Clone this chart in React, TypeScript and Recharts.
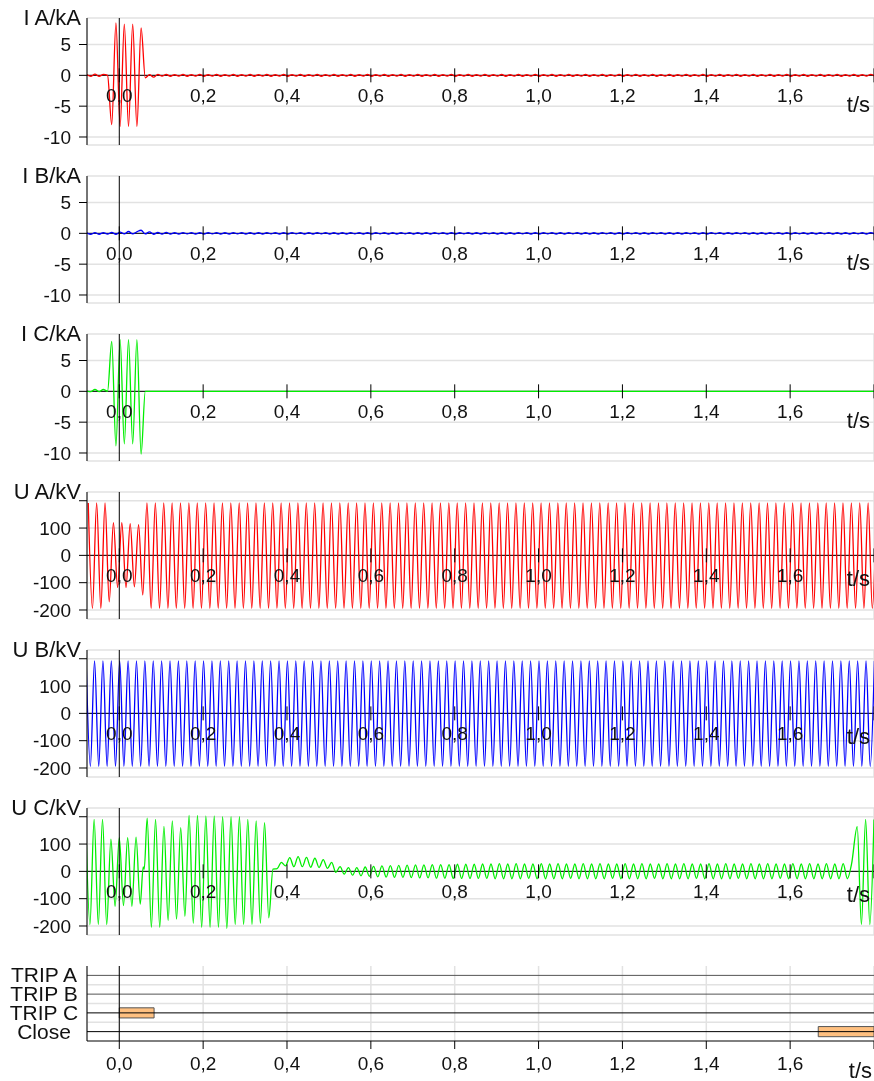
import { LineChart, Line, XAxis, YAxis, CartesianGrid, ReferenceLine, ReferenceDot, ReferenceArea } from 'recharts';

const T_MIN = -0.077;
const T_MAX = 1.8;
const TIME_TICKS = [0, 0.2, 0.4, 0.6, 0.8, 1.0, 1.2, 1.4, 1.6, 1.8];
const CURRENT_TICKS = [-10, -5, 0, 5];
const VOLTAGE_TICKS = [-200, -100, 0, 100, 200];

// half-cycle extrema (peak / trough), one every 10 ms
const IA_START = -0.078;
const IA_PEAKS = [
    0.15, -0.15, 0.2, -0.15, 0.15, 0, -8, 8.5, -8.3, 8.3,
    -8.3, 8.3, -8.3, 7.7, -0.4, 0.1, -0.3, 0.15, -0.12, 0.15,
    -0.15, 0.12, -0.12, 0.15, -0.15, 0.12, -0.12, 0.15, -0.15, 0.12,
    -0.12, 0.15, -0.15, 0.12, -0.12, 0.15, -0.15, 0.12, -0.12, 0.15,
    -0.15, 0.12, -0.12, 0.15, -0.15, 0.12, -0.12, 0.15, -0.15, 0.12,
    -0.12, 0.15, -0.15, 0.12, -0.12, 0.15, -0.15, 0.12, -0.12, 0.15,
    -0.15, 0.12, -0.12, 0.15, -0.15, 0.12, -0.12, 0.15, -0.15, 0.12,
    -0.12, 0.15, -0.15, 0.12, -0.12, 0.15, -0.15, 0.12, -0.12, 0.15,
    -0.15, 0.12, -0.12, 0.15, -0.15, 0.12, -0.12, 0.15, -0.15, 0.12,
    -0.12, 0.15, -0.15, 0.12, -0.12, 0.15, -0.15, 0.12, -0.12, 0.15,
    -0.15, 0.12, -0.12, 0.15, -0.15, 0.12, -0.12, 0.15, -0.15, 0.12,
    -0.12, 0.15, -0.15, 0.12, -0.12, 0.15, -0.15, 0.12, -0.12, 0.15,
    -0.15, 0.12, -0.12, 0.15, -0.15, 0.12, -0.12, 0.15, -0.15, 0.12,
    -0.12, 0.15, -0.15, 0.12, -0.12, 0.15, -0.15, 0.12, -0.12, 0.15,
    -0.15, 0.12, -0.12, 0.15, -0.15, 0.12, -0.12, 0.15, -0.15, 0.12,
    -0.12, 0.15, -0.15, 0.12, -0.12, 0.15, -0.15, 0.12, -0.12, 0.15,
    -0.15, 0.12, -0.12, 0.15, -0.15, 0.12, -0.12, 0.15, -0.15, 0.12,
    -0.12, 0.15, -0.15, 0.12, -0.12, 0.15, -0.15, 0.12, -0.12, 0.15,
    -0.15, 0.12, -0.12, 0.15, -0.15, 0.12, -0.12, 0.15, -0.15,
];

const IB_START = -0.078;
const IB_PEAKS = [
    0.1, -0.15, 0.1, -0.15, 0.12, -0.12, 0.15, -0.15, 0.2, -0.1,
    0.3, -0.1, 0.25, 0.5, -0.1, 0.25, -0.15, 0.15, -0.12, 0.15,
    -0.12, 0.1, -0.12, 0.12, -0.1, 0.12, -0.12, 0.1, -0.12, 0.12,
    -0.1, 0.12, -0.12, 0.1, -0.12, 0.12, -0.1, 0.12, -0.12, 0.1,
    -0.12, 0.1, -0.12, 0.12, -0.1, 0.12, -0.12, 0.1, -0.12, 0.12,
    -0.1, 0.12, -0.12, 0.1, -0.12, 0.12, -0.1, 0.12, -0.12, 0.1,
    -0.12, 0.1, -0.12, 0.12, -0.1, 0.12, -0.12, 0.1, -0.12, 0.12,
    -0.1, 0.12, -0.12, 0.1, -0.12, 0.12, -0.1, 0.12, -0.12, 0.1,
    -0.12, 0.1, -0.12, 0.12, -0.1, 0.12, -0.12, 0.1, -0.12, 0.12,
    -0.1, 0.12, -0.12, 0.1, -0.12, 0.12, -0.1, 0.12, -0.12, 0.1,
    -0.12, 0.1, -0.12, 0.12, -0.1, 0.12, -0.12, 0.1, -0.12, 0.12,
    -0.1, 0.12, -0.12, 0.1, -0.12, 0.12, -0.1, 0.12, -0.12, 0.1,
    -0.12, 0.1, -0.12, 0.12, -0.1, 0.12, -0.12, 0.1, -0.12, 0.12,
    -0.1, 0.12, -0.12, 0.1, -0.12, 0.12, -0.1, 0.12, -0.12, 0.1,
    -0.12, 0.1, -0.12, 0.12, -0.1, 0.12, -0.12, 0.1, -0.12, 0.12,
    -0.1, 0.12, -0.12, 0.1, -0.12, 0.12, -0.1, 0.12, -0.12, 0.1,
    -0.12, 0.1, -0.12, 0.12, -0.1, 0.12, -0.12, 0.1, -0.12, 0.12,
    -0.1, 0.12, -0.12, 0.1, -0.12, 0.12, -0.1, 0.12, -0.12, 0.1,
    -0.12, 0.1, -0.12, 0.12, -0.1, 0.12, -0.12, 0.1, -0.12,
];

const IC_START = -0.078;
const IC_PEAKS = [
    0.05, -0.05, 0.3, -0.05, 0.3, 0, 8.1, -8.85, 8.4, -8.5,
    8.4, -8.5, 8.4, -10.2, 0,
];
// pole C open: flat zero to the end of the record
const IC_OPEN_START = 0.2;
const IC_OPEN = [0, 0, 0, 0, 0];

const UA_START = -0.074;
const UA_PEAKS = [
    192, -194, 192, -194, 192, -170, 120, -118, 120, -118,
    116, -115, 112, -145, 192, -194, 192, -194, 192, -194,
    192, -194, 192, -194, 192, -194, 192, -194, 192, -194,
    192, -194, 192, -194, 192, -194, 192, -194, 192, -194,
    192, -194, 192, -194, 192, -194, 192, -194, 192, -194,
    192, -194, 192, -194, 192, -194, 192, -194, 192, -194,
    192, -194, 192, -194, 192, -194, 192, -194, 192, -194,
    192, -194, 192, -194, 192, -194, 192, -194, 192, -194,
    192, -194, 192, -194, 192, -194, 192, -194, 192, -194,
    192, -194, 192, -194, 192, -194, 192, -194, 192, -194,
    192, -194, 192, -194, 192, -194, 192, -194, 192, -194,
    192, -194, 192, -194, 192, -194, 192, -194, 192, -194,
    192, -194, 192, -194, 192, -194, 192, -194, 192, -194,
    192, -194, 192, -194, 192, -194, 192, -194, 192, -194,
    192, -194, 192, -194, 192, -194, 192, -194, 192, -194,
    192, -194, 192, -194, 192, -194, 192, -194, 192, -194,
    192, -194, 192, -194, 192, -194, 192, -194, 192, -194,
    192, -194, 192, -194, 192, -194, 192, -194, 192, -194,
    192, -194, 192, -194, 192, -194, 192, -194, 192,
];

const UB_START = -0.079;
const UB_PEAKS = [
    192, -194, 192, -194, 192, -194, 192, -194, 192, -194,
    192, -194, 192, -194, 192, -194, 192, -194, 192, -194,
    192, -194, 192, -194, 192, -194, 192, -194, 192, -194,
    192, -194, 192, -194, 192, -194, 192, -194, 192, -194,
    192, -194, 192, -194, 192, -194, 192, -194, 192, -194,
    192, -194, 192, -194, 192, -194, 192, -194, 192, -194,
    192, -194, 192, -194, 192, -194, 192, -194, 192, -194,
    192, -194, 192, -194, 192, -194, 192, -194, 192, -194,
    192, -194, 192, -194, 192, -194, 192, -194, 192, -194,
    192, -194, 192, -194, 192, -194, 192, -194, 192, -194,
    192, -194, 192, -194, 192, -194, 192, -194, 192, -194,
    192, -194, 192, -194, 192, -194, 192, -194, 192, -194,
    192, -194, 192, -194, 192, -194, 192, -194, 192, -194,
    192, -194, 192, -194, 192, -194, 192, -194, 192, -194,
    192, -194, 192, -194, 192, -194, 192, -194, 192, -194,
    192, -194, 192, -194, 192, -194, 192, -194, 192, -194,
    192, -194, 192, -194, 192, -194, 192, -194, 192, -194,
    192, -194, 192, -194, 192, -194, 192, -194, 192, -194,
    192, -194, 192, -194, 192, -194, 192, -194, 192,
];

// UC: before/during the fault, the short step at pole opening, the induced
// voltage while open, and the reclose at the end
const UC_FAULT_START = -0.08;
const UC_FAULT = [190, -195, 190, -195, 190, -195, 118, -128, 123, -125, 123, -128, 125, -120];
const UC_STEP_START = 0.057;
const UC_STEP = [16, 8];
const UC_OPEN_START = 0.0665;
const UC_OPEN = [
    195, -205, 190, -205, 165, -180, 185, -175, 160, -165,
    205, -190, 205, -205, 203, -205, 203, -205, 200, -210,
    200, -195, 200, -195, 190, -195, 185, -190, 178, -170,
    8, 10, 33, 20, 50, 17, 54, 17, 51, 15,
    48, 14, 43, 11, 33, -4, 17, -10, 14, -14,
    14, -16, 16, -18, 18, -20, 20, -21, 21, -22,
    22, -22, 23, -23, 24, -24, 24, -24, 25, -25,
    25, -25, 25, -26, 26, -26, 26, -26, 26, -26,
    27, -26, 27, -27, 28, -27, 27, -27, 28, -27,
    27, -26, 27, -27, 28, -27, 27, -27, 28, -27,
    27, -26, 27, -27, 28, -27, 27, -27, 28, -27,
    27, -26, 27, -27, 28, -27, 27, -27, 28, -27,
    27, -26, 27, -27, 28, -27, 27, -27, 28, -27,
    27, -26, 27, -27, 28, -27, 27, -27, 28, -27,
    27, -26, 27, -27, 28, -27, 27, -27, 28, -27,
    27, -26, 27, -27, 28, -27, 27, -27, 28, -27,
    27, -27, 28, -27, 27, -27, 28, -27, 27,
];
const UC_CLOSE_START = 1.76;
const UC_CLOSE = [164, -195, 190, -195, 190];

// binary channels: [on, off] in seconds
const BINARY_NAMES = ['TRIP A', 'TRIP B', 'TRIP C', 'Close'];
const TRIP_A_ON: number[][] = [];
const TRIP_B_ON: number[][] = [];
const TRIP_C_ON = [[0, 0.083]];
const CLOSE_ON = [[1.667, 1.8]];

type Seg = { t0: number; dt: number; v: number[] };

const toPoints = (segs: Seg[]) =>
    segs.flatMap((s) => s.v.map((v, i) => ({ t: s.t0 + i * s.dt, v })));

const fmtT = (t: number) => t.toFixed(1).replace('.', ',');

const FONT = '"Liberation Sans", Arial, sans-serif';
const GRID = '#e2e2e2';

const ZeroTick = ({ cx, cy, text }: { cx: number; cy: number; text: string }) => (
    <g>
        <line x1={cx} x2={cx} y1={cy - 7} y2={cy + 7} stroke="#000" />
        {text && (
            <text x={cx} y={cy + 27} textAnchor="middle" fontSize={19} fill="#111">
                {text}
            </text>
        )}
    </g>
);

function WavePanel({ title, color, segs, domain, ticks }: {
    title: string; color: string; segs: Seg[]; domain: number[]; ticks: number[];
}) {
    const points = toPoints(segs);
    const top = ticks[ticks.length - 1];
    return (
        <LineChart width={866} height={158} margin={{ top: 10, right: 0, bottom: 20, left: 0 }}>
            <CartesianGrid stroke={GRID} strokeWidth={1.5} />
            <XAxis
                type="number" dataKey="t" domain={[T_MIN, T_MAX]} ticks={TIME_TICKS}
                allowDataOverflow height={1} tick={false} tickLine={false} axisLine={false}
                label={{
                    content: (p: any) => (
                        <text x={p.viewBox.x + p.viewBox.width - 4} y={p.viewBox.y - 33}
                            textAnchor="end" fontSize={22} fill="#111">t/s</text>
                    ),
                }}
            />
            <YAxis
                type="number" domain={domain} ticks={ticks} width={79} allowDataOverflow interval={0}
                tickSize={8} tickMargin={8} tick={{ fontSize: 19, fill: '#111' }}
                tickFormatter={(v: number) => (v === top && top > 100 ? '' : String(v))}
                axisLine={{ stroke: '#000' }} tickLine={{ stroke: '#000' }}
                label={{
                    content: (p: any) => (
                        <text x={p.viewBox.x + p.viewBox.width - 6} y={p.viewBox.y + 7}
                            textAnchor="end" fontSize={22} fill="#111">{title}</text>
                    ),
                }}
            />
            <ReferenceLine y={0} stroke="#000" />
            <Line data={points} dataKey="v" type="monotone" stroke={color} strokeWidth={1.3}
                dot={false} activeDot={false} isAnimationActive={false} />
            <ReferenceLine x={0} stroke="#000" />
            {TIME_TICKS.map((t) => (
                <ReferenceDot key={t} x={t} y={0} r={0}
                    shape={(p: any) => <ZeroTick cx={p.cx} cy={p.cy} text={t < 1.7 ? fmtT(t) : ''} />} />
            ))}
        </LineChart>
    );
}

const BinaryTick = ({ x, y, payload }: any) => (
    <text x={x - 43} y={y + 7} textAnchor="middle" fontSize={21} fill="#111">
        {BINARY_NAMES[Math.round(3.5 - payload.value)]}
    </text>
);

function BinaryPanel() {
    const rows = [TRIP_A_ON, TRIP_B_ON, TRIP_C_ON, CLOSE_ON];
    // switching edges of every channel, at its row level
    const edges = rows.flatMap((ev, k) =>
        ev.flatMap(([on, off]) => [{ t: on, v: 3.5 - k }, { t: off, v: 3.5 - k }]));
    return (
        <LineChart width={866} height={125} margin={{ top: 10, right: 0, bottom: 0, left: 0 }}>
            <CartesianGrid stroke={GRID} strokeWidth={1.5} horizontal={false} />
            <XAxis
                type="number" dataKey="t" domain={[T_MIN, T_MAX]} ticks={TIME_TICKS} allowDataOverflow
                height={40} tickSize={8} tickMargin={8} interval={0}
                tickFormatter={(t: number) => (t > 1.7 ? '' : fmtT(t))}
                tick={{ fontSize: 19, fill: '#111' }}
                axisLine={{ stroke: '#000' }} tickLine={{ stroke: '#000' }}
                label={{
                    content: (p: any) => (
                        <text x={p.viewBox.x + p.viewBox.width - 2} y={p.viewBox.y + 37}
                            textAnchor="end" fontSize={22} fill="#111">t/s</text>
                    ),
                }}
            />
            <YAxis
                type="number" domain={[0, 4]} ticks={[3.5, 2.5, 1.5, 0.5]} width={79} interval={0}
                tickLine={false} tickSize={0} tickMargin={0} tick={<BinaryTick />}
                axisLine={{ stroke: '#000' }}
            />
            {[1, 2, 3].map((y) => (
                <ReferenceLine key={`b${y}`} y={y} stroke={GRID} strokeWidth={1.5} />
            ))}
            {rows.map((_, k) => (
                <ReferenceLine key={`r${k}`} y={3.5 - k} stroke={k < 2 ? '#555' : '#000'} />
            ))}
            <ReferenceLine x={0} stroke="#000" />
            <Line data={edges} dataKey="v" stroke="none" dot={false} activeDot={false}
                isAnimationActive={false} />
            {rows.map((events, k) =>
                events.map(([on, off], j) => (
                    <ReferenceArea key={`e${k}-${j}`} x1={on} x2={off} y1={3.5 - k - 0.27} y2={3.5 - k + 0.27}
                        fill="#ffc080" fillOpacity={1} stroke="#555" strokeWidth={1} ifOverflow="hidden" />
                ))
            )}
        </LineChart>
    );
}

export default function App() {
    return (
        <div style={{ position: 'fixed', left: 8, top: 8, width: 866, fontFamily: FONT }}>
            <style>{'.recharts-surface { overflow: visible; }'}</style>
            <WavePanel title="I A/kA" color="#ff0000" domain={[-11.3, 9.3]} ticks={CURRENT_TICKS}
                segs={[{ t0: IA_START, dt: 0.01, v: IA_PEAKS }]} />
            <WavePanel title="I B/kA" color="#0000ff" domain={[-11.3, 9.3]} ticks={CURRENT_TICKS}
                segs={[{ t0: IB_START, dt: 0.01, v: IB_PEAKS }]} />
            <WavePanel title="I C/kA" color="#00ee00" domain={[-11.3, 9.3]} ticks={CURRENT_TICKS}
                segs={[
                    { t0: IC_START, dt: 0.01, v: IC_PEAKS },
                    { t0: IC_OPEN_START, dt: 0.4, v: IC_OPEN },
                ]} />
            <WavePanel title="U A/kV" color="#ff0000" domain={[-233, 232]} ticks={VOLTAGE_TICKS}
                segs={[{ t0: UA_START, dt: 0.01, v: UA_PEAKS }]} />
            <WavePanel title="U B/kV" color="#0000ff" domain={[-233, 232]} ticks={VOLTAGE_TICKS}
                segs={[{ t0: UB_START, dt: 0.01, v: UB_PEAKS }]} />
            <WavePanel title="U C/kV" color="#00ee00" domain={[-233, 232]} ticks={VOLTAGE_TICKS}
                segs={[
                    { t0: UC_FAULT_START, dt: 0.01, v: UC_FAULT },
                    { t0: UC_STEP_START, dt: 0.0025, v: UC_STEP },
                    { t0: UC_OPEN_START, dt: 0.01, v: UC_OPEN },
                    { t0: UC_CLOSE_START, dt: 0.01, v: UC_CLOSE },
                ]} />
            <BinaryPanel />
        </div>
    );
}
